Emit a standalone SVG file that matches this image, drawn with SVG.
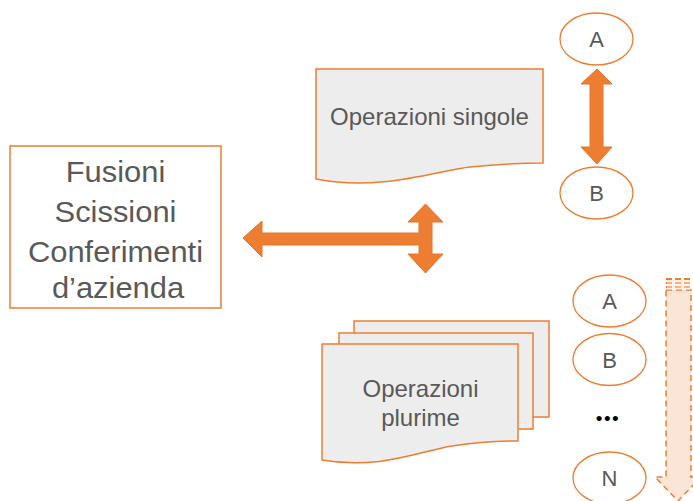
<svg xmlns="http://www.w3.org/2000/svg" width="693" height="501" viewBox="0 0 693 501">
<style>
.doc{fill:#EDEDED;stroke:#ED7D31;stroke-width:1.5}
.ell{fill:#FFFFFF;stroke:#ED7D31;stroke-width:1.3}
.t{font-family:"Liberation Sans",Arial,sans-serif;fill:#595959;text-anchor:middle}
.big{font-size:30px}
.mid{font-size:24px}
.sm{font-size:22px}
.arr{fill:#ED7D31;stroke:#E8742A;stroke-width:1}
</style>
<rect width="693" height="501" fill="#FFFFFF"/>
<g id="main-box">
<rect x="10" y="146" width="211" height="162" fill="#FFFFFF" stroke="#ED7D31" stroke-width="1.5"/>
<text class="t big" transform="translate(115.5,182) scale(1.03,1)">Fusioni</text>
<text class="t big" transform="translate(115.5,222) scale(1.03,1)">Scissioni</text>
<text class="t big" transform="translate(115.5,261.5) scale(1.03,1)">Conferimenti</text>
<text class="t big" transform="translate(118,298) scale(1.03,1)">d’azienda</text>
</g>
<g id="op-singole">
<path class="doc" d="M316,69 L543,69 L543,163 C520,163 500,164 470,167 C440,170 380,192 316,179 Z"/>
<text class="t mid" x="429.5" y="125">Operazioni singole</text>
</g>
<g id="op-plurime">
<rect class="doc" x="354" y="321" width="195" height="96"/>
<rect class="doc" x="339" y="333" width="194" height="96"/>
<path class="doc" d="M322,344 L518,344 L518,441 C497,441 478,442 452,446 C420,451 380,470 322,460 Z"/>
<text class="t mid" x="420.5" y="397">Operazioni</text>
<text class="t mid" x="420.5" y="426">plurime</text>
</g>
<g id="A1"><ellipse class="ell" cx="596.5" cy="39" rx="36.5" ry="26"/><text class="t sm" x="596.5" y="47">A</text></g>
<g id="B1"><ellipse class="ell" cx="596.5" cy="193" rx="36.5" ry="26"/><text class="t sm" x="596.5" y="201">B</text></g>
<g id="A2"><ellipse class="ell" cx="609.5" cy="301" rx="36.5" ry="26"/><text class="t sm" x="609.5" y="309">A</text></g>
<g id="B2"><ellipse class="ell" cx="609.5" cy="359.5" rx="36.5" ry="26"/><text class="t sm" x="609.5" y="367.5">B</text></g>
<g id="dots"><text x="608" y="425" font-family="Liberation Sans,Arial,sans-serif" font-size="19" fill="#000000" text-anchor="middle" letter-spacing="1.5">•••</text></g>
<g id="N"><ellipse class="ell" cx="609.5" cy="478" rx="36.5" ry="26"/><text class="t sm" x="609.5" y="486">N</text></g>
<g id="connectors">
<polygon class="arr" points="243,238 262,221 262,233 419,233 419,222 408,222 425.5,204 443,222 432,222 432,254 443,254 425.5,273 408,254 419,254 419,245 262,245 262,257"/>
<polygon class="arr" points="597,69 612,84 603,84 603,147 612,147 597,164 581,147 590,147 590,84 581,84"/>
<g id="dashed-arrow">
<polygon points="666,290 691,290 691,477 701,477 678,501 655,477 666,477" fill="#FBE5D6" stroke="#ED7D31" stroke-width="1.5" stroke-dasharray="6,4"/>
<line x1="666" y1="279" x2="691" y2="279" stroke="#ED7D31" stroke-width="2" stroke-dasharray="6,3"/>
<line x1="666" y1="283" x2="691" y2="283" stroke="#ED7D31" stroke-width="2" stroke-dasharray="6,3"/>
<line x1="666" y1="287" x2="691" y2="287" stroke="#ED7D31" stroke-width="2" stroke-dasharray="6,3"/>
<rect x="667" y="280" width="23" height="10" fill="#FBE5D6" opacity="0.5"/>
</g>
</g>
</svg>
